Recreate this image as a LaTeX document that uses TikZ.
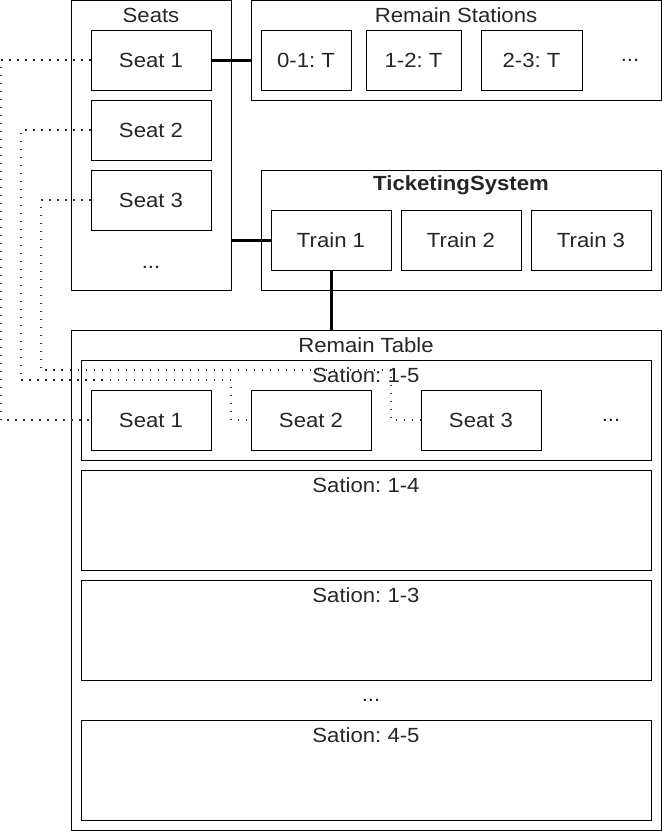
\documentclass[tikz,border=0pt]{standalone}
\usepackage{fontspec}
\setmainfont[FakeStretch=1.08]{Liberation Sans}
\frenchspacing
\begin{document}
\begin{tikzpicture}[x=1pt,y=-1pt,
  every node/.style={font=\fontsize{20.5}{24}\selectfont, text=black!85},
  frame/.style={draw=black, line width=1pt, inner sep=0pt, fill=white},
  cell/.style={frame, minimum width=120pt, minimum height=60pt},
  title/.style={inner sep=0pt, anchor=center},
  link/.style={line width=3pt, draw=black},
  dotline/.style={line width=1.2pt, draw=black!80, dash pattern=on 1.1pt off 6.9pt}
]
\useasboundingbox (0,0) rectangle (662,831);

% Seats container
\node[frame, minimum width=160pt, minimum height=290pt] (seats) at (151,145.5) {};
\node[title] (seatsT) at (151,15) {Seats};
\node[cell] (seatA1) at (151,60) {Seat 1};
\node[cell] (seatA2) at (151,130) {Seat 2};
\node[cell] (seatA3) at (151,200) {Seat 3};
\node[title] (seatsDots) at (151,267) {...};

% Remain Stations container
\node[frame, minimum width=410pt, minimum height=99.5pt] (stations) at (456,50.25) {};
\node[title] (stationsT) at (456,15) {Remain Stations};
\node[frame, minimum width=90pt, minimum height=60pt] (st01) at (306,60) {0-1: T};
\node[frame, minimum width=95pt, minimum height=60pt] (st12) at (413.5,60) {1-2: T};
\node[frame, minimum width=101pt, minimum height=60pt] (st23) at (531.5,60) {2-3: T};
\node[title] (stDots) at (630,60) {...};

% TicketingSystem container
\node[frame, minimum width=400pt, minimum height=120pt] (ticketing) at (461,230) {};
\node[title, font=\fontsize{20.5}{24}\selectfont\bfseries] (ticketingT) at (461,185) {TicketingSystem};
\node[cell] (train1) at (331,240) {Train 1};
\node[cell] (train2) at (461,240) {Train 2};
\node[cell] (train3) at (591,240) {Train 3};

% Remain Table container
\node[frame, minimum width=590pt, minimum height=500pt] (table) at (366,580) {};
\node[title] (tableT) at (366,345) {Remain Table};
\node[frame, minimum width=570pt, minimum height=100pt] (s15) at (366,410) {};
\node[frame, minimum width=570pt, minimum height=100pt] (s14) at (366,520) {};
\node[frame, minimum width=570pt, minimum height=100pt] (s13) at (366,630) {};
\node[title] (tableDots) at (371,700) {...};
\node[frame, minimum width=570pt, minimum height=100pt] (s45) at (366,770) {};
\node[title] (s14T) at (366,485) {Sation: 1-4};
\node[title] (s13T) at (366,595) {Sation: 1-3};
\node[title] (s45T) at (366,735) {Sation: 4-5};
\node[cell] (seatB1) at (151,420) {Seat 1};
\node[cell] (seatB2) at (311,420) {Seat 2};
\node[cell] (seatB3) at (481,420) {Seat 3};
\node[title] (s15Dots) at (611,420) {...};

% solid links
\draw[link] (seatA1.east) -- (seatA1.east -| stations.west);
\draw[link] (train1.west -| seats.east) -- (train1.west);
\draw[link] (train1.south) -- (train1.south |- table.north);

% dotted seat references
\coordinate (w1) at (1,420);
\coordinate (w2a) at (21,380);
\coordinate (w2b) at (231,420);
\coordinate (w3a) at (41,370);
\coordinate (w3b) at (391,420);
\draw[dotline] (seatA1.west) -| (w1) -- (seatB1.west);
\draw[dotline] (seatA2.west) -| (w2a) -| (w2b) -- (seatB2.west);
\draw[dotline] (seatA3.west) -| (w3a) -| (w3b) -- (seatB3.west);

\node[title] (s15T) at (366,375) {Sation: 1-5};
\end{tikzpicture}
\end{document}
